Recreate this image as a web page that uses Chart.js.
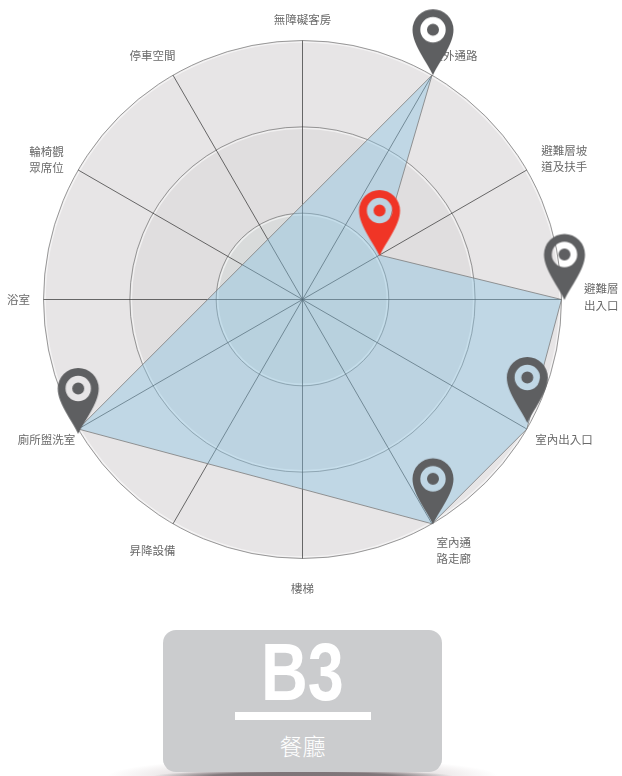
<!DOCTYPE html>
<html lang="zh-Hant">
<head>
<meta charset="utf-8">
<title>B3 餐廳</title>
<script src="https://cdn.jsdelivr.net/npm/chart.js@4/dist/chart.umd.min.js"></script>
<style>
    html, body { margin: 0; padding: 0; background: #fff; }
    body { position: relative; width: 622px; height: 776px; overflow: hidden; font-family: "Noto Sans CJK TC", sans-serif; }
    #radar { position: absolute; left: 0; top: 0; }
    .shadow { position: absolute; left: 108px; top: 756px; width: 390px; height: 20px;
        background:
            radial-gradient(ellipse 150px 6px at 50% 100%, rgba(70,60,65,.6) 60%, rgba(70,60,65,0) 100%),
            radial-gradient(ellipse 195px 18px at 50% 100%, rgba(120,95,100,.32) 35%, rgba(120,95,100,0) 100%); }
    .panel { position: absolute; left: 163px; top: 630px; width: 279px; height: 142px; background: #cbccce; border-radius: 13px; }
    .code { position: absolute; left: 0; top: 0; width: 279px; text-align: center; color: #fff;
        font: bold 82px/84px "Liberation Sans", sans-serif; transform: scaleX(0.79); }
    .rule { position: absolute; left: 72px; top: 82px; width: 136px; height: 8px; background: #fff; }
    .name { position: absolute; left: 0; top: 99px; width: 279px; text-align: center; color: #fff;
        font: 300 23px/32px "Noto Sans CJK TC", sans-serif; }
</style>
</head>
<body>
<canvas id="radar" width="622" height="620"></canvas>
<div class="shadow"></div>
<div class="panel">
    <div class="code">B3</div>
    <div class="rule"></div>
    <div class="name">餐廳</div>
</div>
<script>
// Data, clockwise from the top. null = no mark on that axis
const categories = [
    '無障礙客房', '室外通路', ['避難層坡', '道及扶手'], ['避難層', '出入口'],
    '室內出入口', ['室內通', '路走廊'], '樓梯', '昇降設備',
    '廁所盥洗室', '浴室', ['輪椅觀', '眾席位'], '停車空間'
];
const scores = [null, 3, 1.03, 3, 3, 3, null, null, 3, null, null, null];
const scoreTicks = [0, 1, 2, 3];
const flaggedIndex = 2;

// Label placement relative to the outer end of each axis: [dx, dy, align]
const labelPlacement = [
    [-0.5, -21, 'center'], [-1, -20, 'left'], [14, -20, 'left'], [22, -11, 'left'],
    [8, 10, 'left'], [4, 18, 'left'], [-0.5, 30, 'center'], [2, 26, 'right'],
    [-3.5, 10, 'right'], [-14, 0, 'right'], [-15, -19, 'right'], [2, -20, 'right']
];
// The pins are not always exactly on their vertex
const pinNudge = {1: [1, 0], 2: [0, 1], 3: [3, 0.5], 4: [0.5, -6], 5: [1, 0.5], 8: [0, 5]};

const ringColors = ['#d9dbdb', '#e0dedf', '#e7e5e6'];

/**
 * Pin drawn on its own canvas, tip at the middle so Chart.js puts it on the point
 */
function createPin(color, nudge) {
    const pin = document.createElement('canvas');
    pin.width = 160;
    pin.height = 160;
    const ctx = pin.getContext('2d');
    ctx.translate(80 + nudge[0], 80 + nudge[1]);
    ctx.beginPath();
    ctx.moveTo(0, 0);
    ctx.bezierCurveTo(-5, -12, -20.5, -30, -20.5, -45.5);
    ctx.arc(0, -45.5, 20.5, Math.PI, 0);
    ctx.bezierCurveTo(20.5, -30, 5, -12, 0, 0);
    ctx.closePath();
    ctx.moveTo(12.7, -45.5);
    ctx.arc(0, -45.5, 12.7, 0, Math.PI * 2);
    ctx.moveTo(6, -45.5);
    ctx.arc(0, -45.5, 6, 0, Math.PI * 2);
    ctx.fillStyle = color;
    ctx.fill('evenodd');
    return pin;
}

const pins = {};
Object.keys(pinNudge).forEach(i => {
    pins[i] = createPin(Number(i) === flaggedIndex ? '#f03526' : '#5e5f61', pinNudge[i]);
});

// Half pixel shift so the vertical and horizontal axes stay crisp
const crispPlugin = {
    id: 'crisp',
    beforeDraw(chart) {
        chart.ctx.save();
        chart.ctx.translate(0.5, 0.5);
    },
    afterDraw(chart) {
        chart.ctx.restore();
    }
};

// Grey rings behind the grid
const ringsPlugin = {
    id: 'rings',
    beforeDraw(chart) {
        const scale = chart.scales.r;
        const ctx = chart.ctx;
        for (let i = scoreTicks.length - 1; i > 0; i--) {
            const radius = scale.getDistanceFromCenterForValue(scoreTicks[i]);
            ctx.beginPath();
            ctx.arc(scale.xCenter, scale.yCenter, radius, 0, Math.PI * 2);
            ctx.fillStyle = ringColors[i - 1];
            ctx.fill();
            ctx.beginPath();
            ctx.arc(scale.xCenter, scale.yCenter, radius - 1.5, 0, Math.PI * 2);
            ctx.strokeStyle = 'rgba(255, 255, 255, 0.55)';
            ctx.lineWidth = 1.5;
            ctx.stroke();
        }
    }
};

// Axis labels, under the dataset because the pins cover them
const axisLabelsPlugin = {
    id: 'axisLabels',
    beforeDatasetsDraw(chart) {
        const scale = chart.scales.r;
        const ctx = chart.ctx;
        ctx.save();
        ctx.font = '400 11.5px "Noto Sans CJK TC"';
        ctx.fillStyle = '#6a6a6a';
        ctx.textBaseline = 'middle';
        categories.forEach((label, i) => {
            const end = scale.getPointPosition(i, scale.drawingArea);
            const [dx, dy, align] = labelPlacement[i];
            ctx.textAlign = align;
            [].concat(label).forEach((line, n) => {
                ctx.fillText(line, end.x + dx + 0.5, end.y + dy + n * 16.5 + 0.5);
            });
        });
        ctx.restore();
    }
};

new Chart(document.getElementById('radar'), {
    type: 'radar',
    data: {
        labels: categories,
        datasets: [{
            data: scores,
            spanGaps: true,
            clip: false,
            fill: 'origin',
            tension: 0,
            backgroundColor: 'rgba(135, 194, 228, 0.4)',
            borderColor: 'rgba(125, 125, 125, 0.8)',
            borderWidth: 1,
            pointRadius: 6,
            pointStyle: ctx => pins[ctx.dataIndex] || false
        }]
    },
    options: {
        responsive: false,
        animation: false,
        layout: { padding: { left: 43, right: 60, top: 40, bottom: 61 } },
        plugins: { legend: { display: false }, tooltip: { enabled: false } },
        scales: {
            r: {
                min: 0,
                max: 3,
                ticks: { display: false, stepSize: 1 },
                pointLabels: { display: false },
                grid: { circular: true, color: 'rgba(110, 110, 110, 0.85)', lineWidth: 0.8 },
                angleLines: { color: 'rgba(40, 40, 40, 0.85)', lineWidth: 0.8 }
            }
        }
    },
    plugins: [crispPlugin, ringsPlugin, axisLabelsPlugin]
});
</script>
</body>
</html>
